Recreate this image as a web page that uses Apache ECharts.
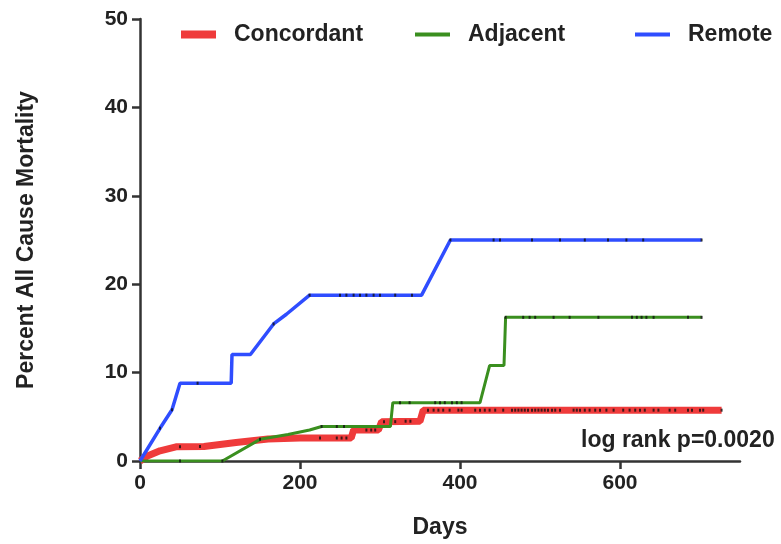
<!DOCTYPE html>
<html>
<head>
<meta charset="utf-8">
<script src="https://cdn.jsdelivr.net/npm/echarts@6/dist/echarts.min.js"></script>
<style>html,body{margin:0;padding:0;background:#fff}#c{width:781px;height:544px}</style>
</head>
<body>
<div id="c"></div>
<script>
// Series names
const seriesNames = ['Concordant', 'Adjacent', 'Remote'];
// Curves as [day, percent]
const concordant = [[0,0],[10,0.6],[25,1.15],[45,1.6],[80,1.65],[120,2.1],[160,2.5],[200,2.6],[264,2.6],[267,3.5],[298,3.5],[302,4.45],[350,4.5],[354,5.75],[727,5.75]];
const adjacent = [[0,0],[103,0],[150,2.45],[185,3.0],[212,3.5],[227,3.9],[313,3.9],[316,6.6],[425,6.6],[437,10.8],[455,10.8],[457,16.25],[702,16.25]];
const remote = [[0,0],[25,3.7],[40,5.8],[50,8.8],[114,8.8],[115,12.05],[138,12.05],[167,15.5],[183,16.6],[212,18.76],[352,18.76],[388,25.0],[702,25.0]];
// Censor marks [day, percent]
const concordantCensor = [[50,1.62],[75,1.63],[225,2.6],[246,2.6],[252,2.6],[258,2.6],[283,3.5],[289,3.5],[294,3.5],[305,4.45],[319,4.45],[332,4.5],[338,4.5],
  [360,5.75],[367,5.75],[373,5.75],[379,5.75],[387,5.75],[398,5.75],[402,5.75],[419,5.75],[425,5.75],[431,5.75],[437,5.75],[444,5.75],[454,5.75],[465,5.75],[469,5.75],[473,5.75],[477,5.75],[481,5.75],[485,5.75],[490,5.75],[494,5.75],[498,5.75],[502,5.75],[506,5.75],[510,5.75],[515,5.75],[519,5.75],[525,5.75],[542,5.75],[546,5.75],[550,5.75],[556,5.75],[562,5.75],[569,5.75],[575,5.75],[583,5.75],[592,5.75],[604,5.75],[612,5.75],[619,5.75],[625,5.75],[631,5.75],[642,5.75],[648,5.75],[662,5.75],[669,5.75],[685,5.75],[690,5.75],[700,5.75],[704,5.75],[727,5.75]];
const adjacentCensor = [[50,0],[103,0],[150,2.45],[227,3.9],[246,3.9],[255,3.9],[325,6.6],[337,6.6],[369,6.6],[375,6.6],[381,6.6],[390,6.6],[396,6.6],[402,6.6],
  [457,16.25],[479,16.25],[487,16.25],[494,16.25],[517,16.25],[537,16.25],[573,16.25],[615,16.25],[621,16.25],[627,16.25],[633,16.25],[642,16.25],[685,16.25],[702,16.25]];
const remoteCensor = [[25,3.7],[40,5.8],[72,8.8],[167,15.5],[212,18.76],[250,18.76],[258,18.76],[267,18.76],[275,18.76],[283,18.76],[292,18.76],[300,18.76],[319,18.76],[340,18.76],
  [388,25],[442,25],[450,25],[490,25],[525,25],[556,25],[585,25],[608,25],[629,25],[702,25]];
// Axis ticks
const xTicks = [0, 200, 400, 600];
const yTicks = [0, 10, 20, 30, 40, 50];
const annotation = 'log rank p=0.0020';

const colors = ['#ef3b3b', '#3a8f1f', '#2f4dff'];
const widths = [7, 3, 3.5];
const font = "'Liberation Sans', Arial, Helvetica, sans-serif";
const curves = [concordant, adjacent, remote];
const censors = [concordantCensor, adjacentCensor, remoteCensor];

const series = [];
curves.forEach((d, i) => {
  series.push({
    name: seriesNames[i], type: 'line', data: d, showSymbol: false, symbol: 'none',
    lineStyle: { color: colors[i], width: widths[i] }, itemStyle: { color: colors[i] },
    z: 2 + i, animation: false, silent: true
  });
});
censors.forEach((d, i) => {
  series.push({
    name: seriesNames[i] + ' censored', type: 'scatter', data: d, symbol: 'rect', symbolSize: [2, 3],
    itemStyle: { color: '#111' }, z: 6, animation: false, silent: true
  });
});

const legendLefts = [176, 410, 630];
const legendHeights = [8, 4, 4];
const legends = seriesNames.map((n, i) => ({
  data: [{ name: n, icon: 'rect' }], left: legendLefts[i], top: 18, itemWidth: 35, itemHeight: legendHeights[i], itemGap: 0,
  textStyle: { fontSize: 23, fontWeight: 'bold', color: '#222', fontFamily: font, padding: [0, 0, 0, 13] },
  selectedMode: false
}));

const chart = echarts.init(document.getElementById('c'), null, { renderer: 'canvas' });
chart.setOption({
  backgroundColor: '#fff',
  animation: false,
  legend: legends,
  grid: { left: 140, right: 41, top: 19, bottom: 79.5, containLabel: false },
  xAxis: {
    type: 'value', min: 0, max: 750, interval: 200,
    name: 'Days', nameLocation: 'middle', nameGap: 55,
    nameTextStyle: { fontSize: 23, fontWeight: 'bold', color: '#222', fontFamily: font },
    axisLine: { onZero: false, lineStyle: { color: '#333', width: 2.5 } },
    axisTick: { length: 8, lineStyle: { color: '#333', width: 2.5 }, customValues: xTicks },
    axisLabel: { fontSize: 21, fontWeight: 'bold', color: '#222', fontFamily: font, margin: 12, customValues: xTicks },
    splitLine: { show: false }
  },
  yAxis: {
    type: 'value', min: 0, max: 50, interval: 10,
    name: 'Percent All Cause Mortality', nameLocation: 'middle', nameGap: 102,
    nameTextStyle: { fontSize: 23, fontWeight: 'bold', color: '#222', fontFamily: font },
    axisLine: { show: true, lineStyle: { color: '#333', width: 2.5 } },
    axisTick: { show: true, length: 8, lineStyle: { color: '#333', width: 2.5 }, customValues: yTicks },
    axisLabel: { fontSize: 21, fontWeight: 'bold', color: '#222', fontFamily: font, margin: 12, customValues: yTicks },
    splitLine: { show: false }
  },
  graphic: [{
    type: 'text', left: 581, top: 429,
    style: { text: annotation, font: 'bold 23px ' + font, fill: '#222' }
  }],
  series: series
});
</script>
</body>
</html>
